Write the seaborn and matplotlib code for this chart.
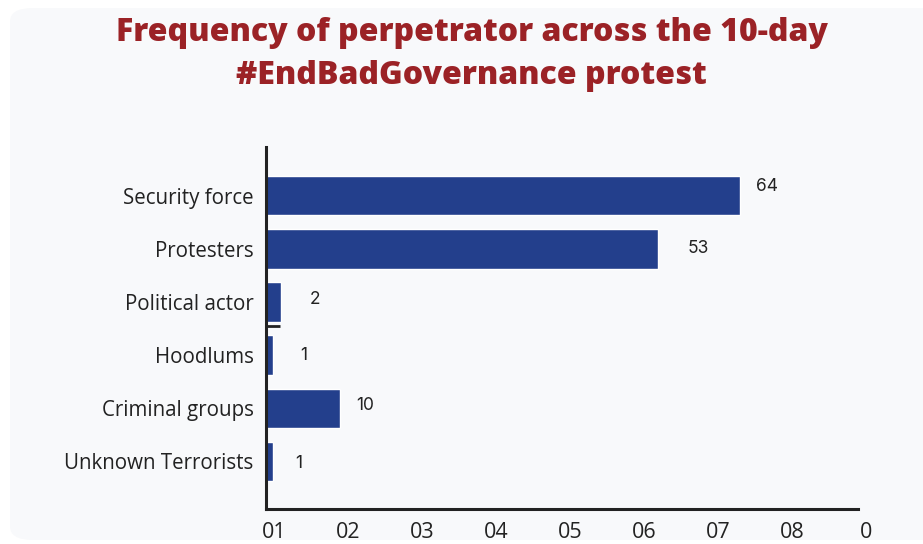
import seaborn as sns
import matplotlib.pyplot as plt
import pandas as pd
from matplotlib.patches import FancyBboxPatch
from matplotlib.transforms import ScaledTranslation

# data
perpetrators = ['Security force', 'Protesters', 'Political actor',
                'Hoodlums', 'Criminal groups', 'Unknown Terrorists']
frequency = [64, 53, 2, 1, 10, 1]
tick_pos = [0, 10, 20, 30, 40, 50, 60, 70, 80]
tick_labels = ['01', '02', '03', '04', '05', '06', '07', '08', '0']

df = pd.DataFrame({'perpetrator': perpetrators, 'frequency': frequency})

sns.set_style('white')
plt.rcParams['font.family'] = ['Open Sans', 'DejaVu Sans']

fig = plt.figure(figsize=(9.23, 5.44), dpi=100)
fig.patch.set_facecolor('white')

# fundo arredondado
fundo = FancyBboxPatch((10 / 923, 4 / 544), 1.05, 1 - 12 / 544,
                       boxstyle='round,pad=0,rounding_size=0.025',
                       transform=fig.transFigure, facecolor='#f8f9fb', edgecolor='none', zorder=-10)
fig.patches.append(fundo)

ax = fig.add_axes([266 / 923, 1 - 509 / 544, (858 - 266) / 923, (509 - 147) / 544])
ax.set_facecolor('none')

sns.barplot(data=df, x='frequency', y='perpetrator', color='#233f8c', saturation=1,
            width=0.74, ax=ax)

ax.set_xlim(0, 80)
ax.set_ylim(5.9, -0.92)
ax.set_xticks(tick_pos)
ax.set_xticklabels(tick_labels, fontsize=15.5, color='#222222')
ax.tick_params(axis='x', length=0, pad=9)
ax.tick_params(axis='y', length=0, pad=9, labelsize=14.8, labelcolor='#222222')
ax.set_xlabel('')
ax.set_ylabel('')

# rótulos do eixo x levemente deslocados para a direita
desloc = ScaledTranslation(6 / 72, 0, fig.dpi_scale_trans)
for lbl in ax.get_xticklabels():
    lbl.set_transform(lbl.get_transform() + desloc)

sns.despine(ax=ax)
for lado in ['left', 'bottom']:
    ax.spines[lado].set_linewidth(2.2)
    ax.spines[lado].set_color('#222222')

# pequeno traço entre Political actor e Hoodlums
ax.hlines(2.45, 0, 1.9, color='#222222', linewidth=2)

# rótulos de valor (deslocamentos em pontos)
dx = [12, 21, 21, 19.5, 12, 16]
dy = [6.5, 0, 1.5, 0, 2, -1.5]
for i, v in enumerate(frequency):
    ax.annotate(str(v), xy=(v, i), xytext=(dx[i], dy[i]), textcoords='offset points',
                va='center', ha='left', fontsize=12.5, color='#222222',
                family=['Inter', 'DejaVu Sans'])

fig.text(0.511, 1 - 33 / 544, 'Frequency of perpetrator across the 10-day',
         ha='center', va='center', fontsize=23, fontweight=800, color='#9b2226')
fig.text(0.511, 1 - 76 / 544, '#EndBadGovernance protest',
         ha='center', va='center', fontsize=23, fontweight=800, color='#9b2226')

fig.savefig('out.png', dpi=100, facecolor=fig.get_facecolor())
